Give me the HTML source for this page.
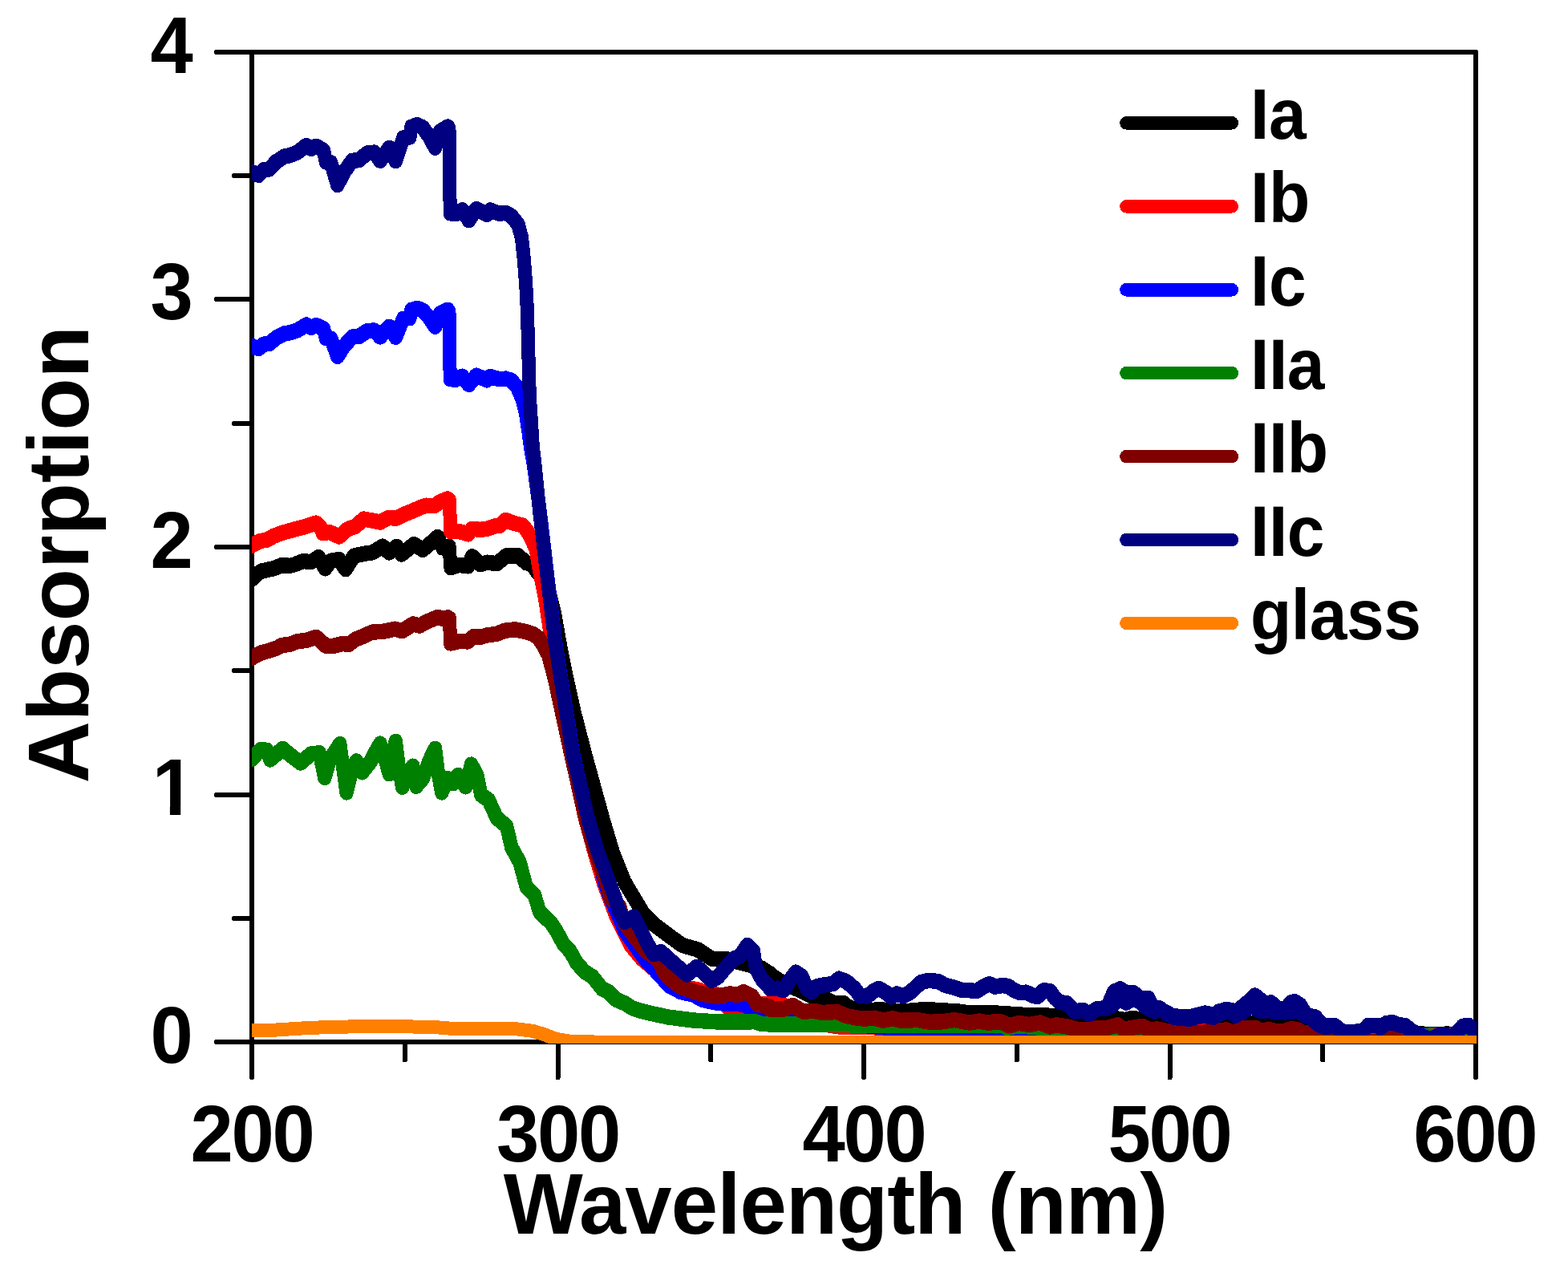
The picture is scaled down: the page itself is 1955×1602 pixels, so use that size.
<!DOCTYPE html>
<html lang="en"><head><meta charset="utf-8"><title>Absorption vs Wavelength</title>
<style>html,body{margin:0;padding:0;background:#fff}body{width:1955px;height:1602px;overflow:hidden}svg{display:block}</style>
</head><body>
<svg width="1955" height="1602" viewBox="0 0 1955 1602" role="img" aria-label="Absorption versus wavelength for samples Ia, Ib, Ic, IIa, IIb, IIc and glass">
<rect width="1955" height="1602" fill="#fff"/>
<g stroke="#000" stroke-width="6" fill="none" stroke-linecap="round" shape-rendering="crispEdges">
<path d="M314.0,65.0 V1343.5"/>
<path d="M1840.0,65.0 V1343.5"/>
<path d="M270,65.0 H1840.0"/>
<path d="M270,1299.0 H1840.0"/>
<path d="M270,991 H314.0"/>
<path d="M270,682 H314.0"/>
<path d="M270,373 H314.0"/>
<path d="M292,1145 H314.0"/>
<path d="M292,836 H314.0"/>
<path d="M292,528 H314.0"/>
<path d="M292,219 H314.0"/>
<path d="M695.5,1299.0 V1343.5"/>
<path d="M1077.0,1299.0 V1343.5"/>
<path d="M1458.5,1299.0 V1343.5"/>
<path d="M504.8,1299.0 V1321.5"/>
<path d="M886.2,1299.0 V1321.5"/>
<path d="M1267.8,1299.0 V1321.5"/>
<path d="M1649.2,1299.0 V1321.5"/>
</g>
<clipPath id="c"><rect x="314.0" y="0" width="1527.0" height="1301"/></clipPath>
<g clip-path="url(#c)" fill="none" stroke-width="17.0" stroke-linejoin="round" stroke-linecap="round" shape-rendering="crispEdges">
<path d="M311.3,722.6 314.3,720.5 320.5,714.4 326.6,710.7 340.9,707.6 351.2,703.5 361.4,704.1 367.6,702.5 377.8,698.4 388,699.4 397.2,693.5 405.4,707.6 412.6,698 422.8,696.4 431,708.6 441.2,691.9 453.5,689.2 463.8,687.8 477.1,680 485.3,687.8 494.5,680.2 500.6,689.8 516,677.5 527.2,684.1 537.5,675.5 545.6,668.3 551.8,681.6 560,680 562,706.6 572.3,703.1 583.5,704.6 588.6,692.5 598.9,702.5 607.1,700 619.3,701.5 631.6,691.5 639.8,691.9 646,691.5 656.2,700.5 663.4,702.1 669,710.8 677,720.8 684.3,734.8 691.4,763.5 698.6,804.5 706.8,845.4 716,886.8 730,940.7 752.5,1022.6 764.8,1063.5 779,1098.8 789,1115.7 802.8,1138.7 815.1,1151 833.5,1164.8 850.4,1177.1 870.4,1182.9 887.3,1194 904.2,1194 925.6,1199.4 948.7,1205.5 960,1212.7 960,1213.7 980,1226.5 990.7,1230.3 1003,1236.1 1021.4,1245.7 1030.6,1244.9 1039.8,1249.5 1052.1,1249.5 1058.3,1254.9 1067.5,1257.2 1082.8,1258.7 1098.2,1257.2 1110.5,1260.2 1128.9,1259.5 1155,1257.2 1174.9,1258.7 1193.4,1259.5 1208.7,1261.8 1230.2,1261.3 1240,1261.3 1240,1261.7 1267.6,1263.5 1289.1,1265 1301.4,1264.3 1322.9,1266.6 1347.5,1270.4 1373.6,1267.3 1393.5,1268.9 1402.7,1270.4 1412,1268.1 1424.2,1270.4 1445.7,1275 1470.3,1281.9 1488.7,1283.5 1502.5,1281.2 1520,1279.9 1520,1281.9 1529.2,1278.6 1536.9,1282.7 1555.3,1275 1564.5,1274 1572.2,1278.1 1581.4,1275 1589.1,1280.4 1598.3,1278.9 1606,1280.4 1615.2,1275.8 1621.3,1278.9 1627.5,1284.2 1636.7,1285 1658.2,1284.2 1673.5,1284.7 1682.7,1285.8 1704.2,1286.5 1765.6,1287.3 1781,1288.4 1793.3,1288.8 1804,1287.8 1811.7,1288.4 1842.4,1288.4 M311.3,725 314.3,722.9 320.5,716.8 326.6,713.1 340.9,710 351.2,705.9 361.4,706.5 367.6,704.9 377.8,700.8 388,701.8 397.2,695.9 405.4,710 412.6,700.4 422.8,698.8 431,711 441.2,694.3 453.5,691.6 463.8,690.2 477.1,682.4 485.3,690.2 494.5,682.6 500.6,692.2 516,679.9 527.2,686.5 537.5,677.9 545.6,670.7 551.8,684 560,682.4 562,709 572.3,705.5 583.5,707 588.6,694.9 598.9,704.9 607.1,702.4 619.3,703.9 631.6,693.9 639.8,694.3 646,693.9 656.2,702.9 663.4,704.5 669,713.2 677,723.2 684.3,737.2 691.4,765.9 698.6,806.9 706.8,847.8 716,889.2 730,943.1 752.5,1025 764.8,1065.9 779,1101.2 789,1118.1 802.8,1141.1 815.1,1153.4 833.5,1167.2 850.4,1179.5 870.4,1185.3 887.3,1196.4 904.2,1196.4 925.6,1201.8 948.7,1207.9 960,1215.1 960,1216.1 980,1228.9 990.7,1232.7 1003,1238.5 1021.4,1248.1 1030.6,1247.3 1039.8,1251.9 1052.1,1251.9 1058.3,1257.3 1067.5,1259.6 1082.8,1261.1 1098.2,1259.6 1110.5,1262.6 1128.9,1261.9 1155,1259.6 1174.9,1261.1 1193.4,1261.9 1208.7,1264.2 1230.2,1263.7 1240,1263.7 1240,1264.1 1267.6,1265.9 1289.1,1267.4 1301.4,1266.7 1322.9,1269 1347.5,1272.8 1373.6,1269.7 1393.5,1271.3 1402.7,1272.8 1412,1270.5 1424.2,1272.8 1445.7,1277.4 1470.3,1284.3 1488.7,1285.9 1502.5,1283.6 1520,1282.3 1520,1284.3 1529.2,1281 1536.9,1285.1 1555.3,1277.4 1564.5,1276.4 1572.2,1280.5 1581.4,1277.4 1589.1,1282.8 1598.3,1281.3 1606,1282.8 1615.2,1278.2 1621.3,1281.3 1627.5,1286.6 1636.7,1287.4 1658.2,1286.6 1673.5,1287.1 1682.7,1288.2 1704.2,1288.9 1765.6,1289.7 1781,1290.8 1793.3,1291.2 1804,1290.2 1811.7,1290.8 1842.4,1290.8" stroke="#000000"/>
<path d="M311.3,679.2 314.3,678.6 324.6,673.4 332.8,671.8 340.9,667.3 351.2,663.2 361.4,660.5 369.6,658.1 381.9,655 394.2,650.9 400.3,657.1 402.4,663.6 410.5,662.2 422.8,667.7 433.1,658.7 443.3,655 453.5,645.8 463.8,647.8 474,649.9 484.2,644.4 494.5,644.8 504.7,639.7 514.9,635.6 525.2,631.1 531.3,629 541.6,629.4 549.7,623.9 558.3,620.8 560.4,622.7 561,640.7 561.6,661.2 572.3,661.2 583.5,664.6 588.6,658.1 598.9,659.1 607.1,658.1 617.3,654.6 623.4,654 630.6,647.2 639.8,650.9 652.1,654 658.2,662.2 668.3,682.8 671.2,702.1 675.2,722.6 679.3,743 682.4,763.5 685.5,784 690.6,798.3 700,858.8 712,938.8 729,1016.8 741,1060.8 753,1100.8 768,1140.8 786,1176.8 800,1193.8 820,1210.8 833.5,1220.1 848.9,1228.5 871.9,1233.1 879.6,1237.7 894.9,1238.8 905.7,1252.3 910.3,1256.9 931.8,1256.9 941,1250.8 960,1250 975.4,1250.8 987.6,1258.5 1006.1,1269.2 1024.5,1275.4 1046,1278.7 1095.1,1279.7 1144.2,1281.2 1260,1282.3 1400,1283.8 1600,1285.8 1780,1289.2 1845,1289.8 M311.3,681.6 314.3,681 324.6,675.8 332.8,674.2 340.9,669.7 351.2,665.6 361.4,662.9 369.6,660.5 381.9,657.4 394.2,653.3 400.3,659.5 402.4,666 410.5,664.6 422.8,670.1 433.1,661.1 443.3,657.4 453.5,648.2 463.8,650.2 474,652.3 484.2,646.8 494.5,647.2 504.7,642.1 514.9,638 525.2,633.5 531.3,631.4 541.6,631.8 549.7,626.3 558.3,623.2 560.4,625.1 561,643.1 561.6,663.6 572.3,663.6 583.5,667 588.6,660.5 598.9,661.5 607.1,660.5 617.3,657 623.4,656.4 630.6,649.6 639.8,653.3 652.1,656.4 658.2,664.6 668.3,685.2 671.2,704.5 675.2,725 679.3,745.4 682.4,765.9 685.5,786.4 690.6,800.7 700,861.2 712,941.2 729,1019.2 741,1063.2 753,1103.2 768,1143.2 786,1179.2 800,1196.2 820,1213.2 833.5,1222.5 848.9,1230.9 871.9,1235.5 879.6,1240.1 894.9,1241.2 905.7,1254.7 910.3,1259.3 931.8,1259.3 941,1253.2 960,1252.4 975.4,1253.2 987.6,1260.9 1006.1,1271.6 1024.5,1277.8 1046,1281.1 1095.1,1282.1 1144.2,1283.6 1260,1284.7 1400,1286.2 1600,1288.2 1780,1291.6 1845,1292.2" stroke="#ff0000"/>
<path d="M311.3,430.3 314.3,430.3 322.5,433.3 328.7,427.9 335.8,427.4 344,420.2 354.2,414.8 361.4,413.6 370.6,410.7 381.9,403.8 388,407.1 394.2,404.4 403.4,408.7 406.4,420.2 412.6,420.8 420.8,443.1 429,430.3 439.2,418.8 447.4,418.4 457.6,411.5 466.8,410.7 474,418.8 485.3,406.1 493.4,419.2 502.7,396.2 510.8,395.4 512.9,385.3 520.1,383.1 527.2,385.8 535.4,395.1 542.6,406.1 548.7,389.7 558.3,385.1 560,387.7 560.6,430.3 561.2,471.3 568.2,472.1 576.4,468 584.5,478.3 593.8,467 607.1,472.6 611.2,468.3 622.4,471.6 630.6,470.9 637.8,473.1 645,481.8 651,495.8 655.5,513.8 658.5,533.8 662,558.8 665.5,578.8 673.5,638.8 683.3,722.6 692.5,798.8 701.8,858.8 715.2,940.7 734,1022.6 745,1063.5 754,1098.8 760.8,1118 768.7,1134.9 779,1159.4 792.4,1178.3 804.7,1195.2 820.5,1212.4 834.3,1227.5 848.9,1235.4 864.2,1238.8 876.5,1245.4 894.9,1249.3 925.6,1250.8 934.9,1254.6 953.3,1259.2 960,1260 990.7,1261.5 1021.4,1266.9 1052.1,1273.1 1082.8,1277.8 1102.8,1279.7 1190.3,1280 1260,1280.1 1300,1280.8 1400,1284.8 1840,1290.8 1845,1290.8 M311.3,432.7 314.3,432.7 322.5,435.7 328.7,430.3 335.8,429.8 344,422.6 354.2,417.2 361.4,416 370.6,413.1 381.9,406.2 388,409.5 394.2,406.8 403.4,411.1 406.4,422.6 412.6,423.2 420.8,445.5 429,432.7 439.2,421.2 447.4,420.8 457.6,413.9 466.8,413.1 474,421.2 485.3,408.5 493.4,421.6 502.7,398.6 510.8,397.8 512.9,387.7 520.1,385.5 527.2,388.2 535.4,397.5 542.6,408.5 548.7,392.1 558.3,387.5 560,390.1 560.6,432.7 561.2,473.7 568.2,474.5 576.4,470.4 584.5,480.7 593.8,469.4 607.1,475 611.2,470.7 622.4,474 630.6,473.3 637.8,475.5 645,484.2 651,498.2 655.5,516.2 658.5,536.2 662,561.2 665.5,581.2 673.5,641.2 683.3,725 692.5,801.2 701.8,861.2 715.2,943.1 734,1025 745,1065.9 754,1101.2 760.8,1120.4 768.7,1137.3 779,1161.8 792.4,1180.7 804.7,1197.6 820.5,1214.8 834.3,1229.9 848.9,1237.8 864.2,1241.2 876.5,1247.8 894.9,1251.7 925.6,1253.2 934.9,1257 953.3,1261.6 960,1262.4 990.7,1263.9 1021.4,1269.3 1052.1,1275.5 1082.8,1280.2 1102.8,1282.1 1190.3,1282.4 1260,1282.5 1300,1283.2 1400,1287.2 1840,1293.2 1845,1293.2" stroke="#0000ff"/>
<path d="M311.3,945.8 314.3,944.8 324.6,933.5 332.8,934.1 336.8,945.8 344,939.7 352.2,932.1 361.4,939.7 374.7,949.9 388,938.6 398.3,937.6 404.8,968.3 411.6,944.8 423.8,926.4 427.9,957.1 432,986.7 439.2,957.1 444.3,947.8 451.5,961.6 461.7,948.9 467.9,936.6 474,925.9 481.2,948.9 485.3,963.6 488.3,940.7 493.4,923.3 497.5,957.1 501.6,980 508.8,961.2 514.9,954 519,979 527.2,969.3 535.4,946.8 542.6,932.1 546.7,965.2 550.8,986.7 557.9,969.3 565.1,975.5 571.2,965.2 580.5,979.6 587.6,951.9 594.8,965.2 599.9,989.8 609.1,996 619.3,1018.5 631.6,1028.7 637.8,1055.3 648,1073.7 656.2,1104.4 666.4,1114.7 672.6,1135.2 682.8,1145.4 686.5,1148.8 693.4,1158.8 702.6,1175.7 711.1,1184.9 718.7,1198.7 728.7,1210.2 738.7,1216.4 751,1231.7 758.7,1235.5 768.6,1245.2 780,1250.1 787.5,1255.1 796.7,1258.5 812,1262.3 833.5,1266.9 864.2,1270.8 894.9,1272.8 941,1272.6 950.2,1275.4 960,1275.7 960,1275.8 1021.4,1276.1 1052.1,1276.4 1082.8,1277.2 1113.5,1277.4 1260,1277.5 1255.4,1280 1270.7,1277.7 1293.7,1279.7 1309.1,1282.3 1324.4,1281.8 1347.5,1285.3 1378.2,1283.8 1393.5,1286.9 1454.9,1288.4 1540,1289.2 1600,1289.8 1845,1290.8 M311.3,948.2 314.3,947.2 324.6,935.9 332.8,936.5 336.8,948.2 344,942.1 352.2,934.5 361.4,942.1 374.7,952.3 388,941 398.3,940 404.8,970.7 411.6,947.2 423.8,928.8 427.9,959.5 432,989.1 439.2,959.5 444.3,950.2 451.5,964 461.7,951.3 467.9,939 474,928.3 481.2,951.3 485.3,966 488.3,943.1 493.4,925.7 497.5,959.5 501.6,982.4 508.8,963.6 514.9,956.4 519,981.4 527.2,971.7 535.4,949.2 542.6,934.5 546.7,967.6 550.8,989.1 557.9,971.7 565.1,977.9 571.2,967.6 580.5,982 587.6,954.3 594.8,967.6 599.9,992.2 609.1,998.4 619.3,1020.9 631.6,1031.1 637.8,1057.7 648,1076.1 656.2,1106.8 666.4,1117.1 672.6,1137.6 682.8,1147.8 686.5,1151.2 693.4,1161.2 702.6,1178.1 711.1,1187.3 718.7,1201.1 728.7,1212.6 738.7,1218.8 751,1234.1 758.7,1237.9 768.6,1247.6 780,1252.5 787.5,1257.5 796.7,1260.9 812,1264.7 833.5,1269.3 864.2,1273.2 894.9,1275.2 941,1275 950.2,1277.8 960,1278.1 960,1278.2 1021.4,1278.5 1052.1,1278.8 1082.8,1279.6 1113.5,1279.8 1260,1279.9 1255.4,1282.4 1270.7,1280.1 1293.7,1282.1 1309.1,1284.7 1324.4,1284.2 1347.5,1287.7 1378.2,1286.2 1393.5,1289.3 1454.9,1290.8 1540,1291.6 1600,1292.2 1845,1293.2" stroke="#008000"/>
<path d="M311.3,819.8 314.3,818.8 324.6,813 334.8,810.2 345,806.9 351.2,803.4 361.4,802 371.6,798.3 381.9,797.3 394.2,793.2 402.4,800.4 406.4,804 414.6,804.4 426.9,801.4 435.1,802 443.3,795.9 453.5,791.8 463.8,787 478.1,786 492.4,783 501.6,785.4 514.9,776.8 523.1,778.9 531.3,774.4 545.6,768.2 551.8,770.1 558.3,768.6 560.4,770.1 561,784 561.6,800.8 572.3,798.3 583.5,798.7 590.7,792.2 598.9,793.2 607.1,790.7 619.3,789.1 629.6,785 641.9,783.6 654.1,786 664.4,789.1 671.5,794.2 677.5,803.8 683.4,814.7 691.6,845.4 694.4,858.8 712.2,940.7 730.6,1022.6 742.9,1063.5 755.5,1096.8 761.5,1118.3 772.5,1128.8 778.5,1149.8 793.5,1169.6 805.8,1184.8 820,1194.8 828,1210.8 833.5,1217.8 848.9,1229.3 864.2,1234.7 879.6,1238.8 894.9,1240.8 910.3,1237.7 919.5,1239.3 927.2,1235.4 937.9,1240.8 944.1,1250.8 956.4,1253.1 960,1253.9 960,1256.9 976.9,1256.9 988.4,1252.3 1001.5,1260 1015.3,1259.2 1024.5,1261.2 1036.8,1260.8 1042.9,1260 1055.2,1265.4 1067.5,1267.7 1076.7,1268.9 1090.5,1268 1101.2,1271.1 1113.5,1268.5 1122.7,1271.1 1144.2,1270.4 1159.6,1273.1 1174.9,1272.6 1190.3,1270.4 1208.7,1273.8 1221,1271.8 1233.3,1274.3 1240,1272.3 1240,1273 1247.7,1272.5 1258.4,1277.6 1270.7,1274.2 1283,1276.4 1296.8,1273.8 1309.1,1278.7 1316.8,1276.7 1332.1,1279 1342.9,1282 1356.7,1282.8 1367.4,1280.5 1378.2,1280.8 1393.5,1276.7 1401.2,1282 1408.9,1280.5 1424.2,1278.2 1433.4,1282.8 1442.7,1281.7 1454.9,1284.3 1470.3,1285.9 1488.7,1287.4 1501,1285.9 1516.4,1285.1 1520,1284 1520,1283.6 1529.2,1282.8 1536.9,1286.6 1550.7,1280.5 1566.1,1280.5 1573,1285.1 1581.4,1282 1590.6,1284.3 1601.4,1284.3 1610.6,1281.3 1618.3,1282.8 1624.4,1286.6 1633.6,1286.6 1641.3,1294.3 1650.5,1298.9 1659.7,1296.6 1673.5,1299.4 1704.2,1299.4 1711.9,1297.1 1724.2,1297.1 1734.9,1292.3 1742.6,1295.1 1750.3,1299.4 1796.4,1299.4 1842.4,1299.4 M311.3,822.2 314.3,821.2 324.6,815.4 334.8,812.6 345,809.3 351.2,805.8 361.4,804.4 371.6,800.7 381.9,799.7 394.2,795.6 402.4,802.8 406.4,806.4 414.6,806.8 426.9,803.8 435.1,804.4 443.3,798.3 453.5,794.2 463.8,789.4 478.1,788.4 492.4,785.4 501.6,787.8 514.9,779.2 523.1,781.3 531.3,776.8 545.6,770.6 551.8,772.5 558.3,771 560.4,772.5 561,786.4 561.6,803.2 572.3,800.7 583.5,801.1 590.7,794.6 598.9,795.6 607.1,793.1 619.3,791.5 629.6,787.4 641.9,786 654.1,788.4 664.4,791.5 671.5,796.6 677.5,806.2 683.4,817.1 691.6,847.8 694.4,861.2 712.2,943.1 730.6,1025 742.9,1065.9 755.5,1099.2 761.5,1120.7 772.5,1131.2 778.5,1152.2 793.5,1172 805.8,1187.2 820,1197.2 828,1213.2 833.5,1220.2 848.9,1231.7 864.2,1237.1 879.6,1241.2 894.9,1243.2 910.3,1240.1 919.5,1241.7 927.2,1237.8 937.9,1243.2 944.1,1253.2 956.4,1255.5 960,1256.3 960,1259.3 976.9,1259.3 988.4,1254.7 1001.5,1262.4 1015.3,1261.6 1024.5,1263.6 1036.8,1263.2 1042.9,1262.4 1055.2,1267.8 1067.5,1270.1 1076.7,1271.3 1090.5,1270.4 1101.2,1273.5 1113.5,1270.9 1122.7,1273.5 1144.2,1272.8 1159.6,1275.5 1174.9,1275 1190.3,1272.8 1208.7,1276.2 1221,1274.2 1233.3,1276.7 1240,1274.7 1240,1275.4 1247.7,1274.9 1258.4,1280 1270.7,1276.6 1283,1278.8 1296.8,1276.2 1309.1,1281.1 1316.8,1279.1 1332.1,1281.4 1342.9,1284.4 1356.7,1285.2 1367.4,1282.9 1378.2,1283.2 1393.5,1279.1 1401.2,1284.4 1408.9,1282.9 1424.2,1280.6 1433.4,1285.2 1442.7,1284.1 1454.9,1286.7 1470.3,1288.3 1488.7,1289.8 1501,1288.3 1516.4,1287.5 1520,1286.4 1520,1286 1529.2,1285.2 1536.9,1289 1550.7,1282.9 1566.1,1282.9 1573,1287.5 1581.4,1284.4 1590.6,1286.7 1601.4,1286.7 1610.6,1283.7 1618.3,1285.2 1624.4,1289 1633.6,1289 1641.3,1296.7 1650.5,1301.3 1659.7,1299 1673.5,1301.8 1704.2,1301.8 1711.9,1299.5 1724.2,1299.5 1734.9,1294.7 1742.6,1297.5 1750.3,1301.8 1796.4,1301.8 1842.4,1301.8" stroke="#800000"/>
<path d="M311.3,213.4 314.3,213.4 322.5,217.1 328.7,210.4 335.8,209.8 344,200.7 354.2,194 361.4,192.6 370.6,188.9 381.9,180.3 388,184.4 394.2,181.1 403.4,186.4 406.4,200.7 412.6,201.6 420.8,229.4 429,213.4 439.2,199.1 447.4,198.5 457.6,189.9 466.8,188.9 474,199.1 485.3,183.1 493.4,199.5 502.7,170.9 510.8,169.8 512.9,157.1 520.1,154.5 527.2,157.8 535.4,169.4 542.6,183.1 548.7,162.7 558.3,156.9 560,160.2 560.6,213.4 561.2,264.6 568.2,265.6 576.4,260.5 584.5,273.4 593.8,259.3 607.1,266.3 611.2,260.9 622.4,265 630.6,264.2 637.8,268.3 646,278.5 650.5,295.3 653.5,324 655.8,354.7 657.4,385.4 660.3,492.6 664.5,558.8 666.5,574.4 673,638.8 682.8,722.6 692,798.8 701.3,858.8 714.6,940.7 734.1,1022.6 746.4,1063.5 759.8,1098.8 766,1115.7 772.1,1134.1 779,1148.2 790.5,1141.8 798.2,1157.1 807.4,1175.6 815.1,1188.6 824.3,1185.5 833.5,1194 845.8,1204.7 856.6,1213.9 868.8,1204 878.1,1212.4 887.3,1220.9 894.9,1217 902.6,1207.8 914.9,1194 922.6,1190.9 931.8,1177.1 939.5,1184.8 942.5,1206.3 950.2,1220.1 959.4,1229 960,1231.6 969.2,1230.9 976.9,1233.5 984.6,1220.9 992.2,1210.9 999.9,1216.3 1006.1,1231.6 1012.2,1235 1018.3,1228.6 1029.1,1226.3 1038.3,1225.5 1046,1219 1055.2,1222.4 1065.9,1231.6 1072.1,1240.1 1081.3,1240.8 1089,1234.7 1095.9,1231.2 1104.3,1236.2 1111.2,1241.6 1118.1,1237.8 1125.8,1240.5 1133.5,1237 1141.2,1230.1 1148.8,1223.2 1158.1,1221.2 1170.3,1222.4 1178,1227 1190.3,1230.1 1199.5,1233.2 1208.7,1233.5 1217.9,1234.4 1225.6,1229.3 1233.3,1225.5 1240,1228.3 1240,1229 1249.2,1227.4 1256.9,1228.2 1264.6,1233.6 1272.2,1236.6 1279.2,1235.9 1289.1,1240.5 1293.7,1241.2 1301.4,1233.6 1309.1,1234.3 1315.2,1242.8 1321.4,1248.2 1330.6,1249.7 1339.8,1259.7 1350.5,1258.1 1358.2,1263.1 1367.4,1256.6 1379.7,1255.8 1384.3,1245.9 1388.9,1235.1 1396.6,1231.7 1404.3,1236.6 1413.5,1236.6 1421.2,1242.8 1431.9,1243.6 1436.5,1253.5 1439.6,1259.7 1445.7,1257.4 1454.9,1261.2 1464.2,1267.3 1473.4,1268.1 1482.6,1269.2 1491.8,1266.6 1501,1265 1513.3,1267 1519.4,1261.2 1520,1259.7 1527.7,1257.7 1535.4,1258.1 1540.7,1265 1547.6,1255.1 1556.8,1247.4 1564.5,1239.7 1572.2,1245.9 1577.6,1251.2 1584.5,1248.6 1593.7,1256.6 1603.7,1256.9 1609,1248.9 1614.4,1247.4 1621.3,1252 1627.5,1262.7 1633.6,1266.6 1639.8,1266.6 1645.9,1273.5 1652,1278.9 1654.3,1277.8 1655,1277.3 1664.2,1277.3 1671.9,1284.2 1681.1,1285.8 1690.3,1285 1699.5,1284.2 1705.7,1277.3 1717.9,1277.3 1721,1280.4 1728.7,1274.3 1736.4,1273.5 1744,1276.6 1751.7,1277.3 1759.4,1283.5 1767.1,1288.1 1780.9,1293.8 1785.5,1294.2 1793.2,1289.6 1800.9,1288.8 1810.1,1291.1 1816.2,1286.5 1823.9,1278.1 1831.6,1277.3 1837.7,1283.5 1843.8,1290.4 M311.3,215.8 314.3,215.8 322.5,219.5 328.7,212.8 335.8,212.2 344,203.1 354.2,196.4 361.4,195 370.6,191.3 381.9,182.7 388,186.8 394.2,183.5 403.4,188.8 406.4,203.1 412.6,204 420.8,231.8 429,215.8 439.2,201.5 447.4,200.9 457.6,192.3 466.8,191.3 474,201.5 485.3,185.5 493.4,201.9 502.7,173.3 510.8,172.2 512.9,159.5 520.1,156.9 527.2,160.2 535.4,171.8 542.6,185.5 548.7,165.1 558.3,159.3 560,162.6 560.6,215.8 561.2,267 568.2,268 576.4,262.9 584.5,275.8 593.8,261.7 607.1,268.7 611.2,263.3 622.4,267.4 630.6,266.6 637.8,270.7 646,280.9 650.5,297.7 653.5,326.4 655.8,357.1 657.4,387.8 660.3,495 664.5,561.2 666.5,576.8 673,641.2 682.8,725 692,801.2 701.3,861.2 714.6,943.1 734.1,1025 746.4,1065.9 759.8,1101.2 766,1118.1 772.1,1136.5 779,1150.6 790.5,1144.2 798.2,1159.5 807.4,1178 815.1,1191 824.3,1187.9 833.5,1196.4 845.8,1207.1 856.6,1216.3 868.8,1206.4 878.1,1214.8 887.3,1223.3 894.9,1219.4 902.6,1210.2 914.9,1196.4 922.6,1193.3 931.8,1179.5 939.5,1187.2 942.5,1208.7 950.2,1222.5 959.4,1231.4 960,1234 969.2,1233.3 976.9,1235.9 984.6,1223.3 992.2,1213.3 999.9,1218.7 1006.1,1234 1012.2,1237.4 1018.3,1231 1029.1,1228.7 1038.3,1227.9 1046,1221.4 1055.2,1224.8 1065.9,1234 1072.1,1242.5 1081.3,1243.2 1089,1237.1 1095.9,1233.6 1104.3,1238.6 1111.2,1244 1118.1,1240.2 1125.8,1242.9 1133.5,1239.4 1141.2,1232.5 1148.8,1225.6 1158.1,1223.6 1170.3,1224.8 1178,1229.4 1190.3,1232.5 1199.5,1235.6 1208.7,1235.9 1217.9,1236.8 1225.6,1231.7 1233.3,1227.9 1240,1230.7 1240,1231.4 1249.2,1229.8 1256.9,1230.6 1264.6,1236 1272.2,1239 1279.2,1238.3 1289.1,1242.9 1293.7,1243.6 1301.4,1236 1309.1,1236.7 1315.2,1245.2 1321.4,1250.6 1330.6,1252.1 1339.8,1262.1 1350.5,1260.5 1358.2,1265.5 1367.4,1259 1379.7,1258.2 1384.3,1248.3 1388.9,1237.5 1396.6,1234.1 1404.3,1239 1413.5,1239 1421.2,1245.2 1431.9,1246 1436.5,1255.9 1439.6,1262.1 1445.7,1259.8 1454.9,1263.6 1464.2,1269.7 1473.4,1270.5 1482.6,1271.6 1491.8,1269 1501,1267.4 1513.3,1269.4 1519.4,1263.6 1520,1262.1 1527.7,1260.1 1535.4,1260.5 1540.7,1267.4 1547.6,1257.5 1556.8,1249.8 1564.5,1242.1 1572.2,1248.3 1577.6,1253.6 1584.5,1251 1593.7,1259 1603.7,1259.3 1609,1251.3 1614.4,1249.8 1621.3,1254.4 1627.5,1265.1 1633.6,1269 1639.8,1269 1645.9,1275.9 1652,1281.3 1654.3,1280.2 1655,1279.7 1664.2,1279.7 1671.9,1286.6 1681.1,1288.2 1690.3,1287.4 1699.5,1286.6 1705.7,1279.7 1717.9,1279.7 1721,1282.8 1728.7,1276.7 1736.4,1275.9 1744,1279 1751.7,1279.7 1759.4,1285.9 1767.1,1290.5 1780.9,1296.2 1785.5,1296.6 1793.2,1292 1800.9,1291.2 1810.1,1293.5 1816.2,1288.9 1823.9,1280.5 1831.6,1279.7 1837.7,1285.9 1843.8,1292.8 M1378.2,1254.2 1387.4,1251.9 1395.1,1244.2 1404.3,1248.8 1412,1243.4 1421.2,1247.3 1425.8,1251.9 1435,1258 1445.7,1255.7 1454.9,1262.6 1464.2,1265.7 1482.6,1266.9 1493.3,1264.2 1502.5,1261.9 1513.3,1264.2 1521,1262.6 1528.6,1259.5 1540,1262.6 1543,1262.4 1550.2,1260.2 1556.3,1254.6 1561.4,1248.8 1565.5,1256.1 1571.6,1259.2 1576.8,1259.2 1581.9,1255.6 1588,1260.7 1597.2,1259.7 1602.4,1260.7 1610.5,1260.2 1615.7,1256.6 1620.8,1260.2 1626.9,1264.8 1634.1,1265.3 1638.2,1271.5 1643.3,1275.5 1649.4,1278.6 1656.6,1279.1 M1378.2,1256.6 1387.4,1254.3 1395.1,1246.6 1404.3,1251.2 1412,1245.8 1421.2,1249.7 1425.8,1254.3 1435,1260.4 1445.7,1258.1 1454.9,1265 1464.2,1268.1 1482.6,1269.3 1493.3,1266.6 1502.5,1264.3 1513.3,1266.6 1521,1265 1528.6,1261.9 1540,1265 1543,1264.8 1550.2,1262.6 1556.3,1257 1561.4,1251.2 1565.5,1258.5 1571.6,1261.6 1576.8,1261.6 1581.9,1258 1588,1263.1 1597.2,1262.1 1602.4,1263.1 1610.5,1262.6 1615.7,1259 1620.8,1262.6 1626.9,1267.2 1634.1,1267.7 1638.2,1273.9 1643.3,1277.9 1649.4,1281 1656.6,1281.5" stroke="#000080"/>
<path d="M305,1284.3 314,1284.3 343.3,1284.1 374,1282.1 415,1280.2 476.4,1279.6 496.8,1279.6 523.4,1280.2 541.4,1280.5 572,1283 610.5,1282.5 641,1282.4 664,1285.3 679.6,1290 692,1295 710,1298.2 741,1299 1000,1299.7 1850,1299.7" stroke="#ff8000"/>
</g>
<g stroke-width="16.7" stroke-linecap="round" fill="none" shape-rendering="crispEdges">
<path d="M1404.5,153.3 H1535.7" stroke="#000000"/>
<path d="M1404.5,257.3 H1535.7" stroke="#ff0000"/>
<path d="M1404.5,361.2 H1535.7" stroke="#0000ff"/>
<path d="M1404.5,465.1 H1535.7" stroke="#008000"/>
<path d="M1404.5,569.1 H1535.7" stroke="#800000"/>
<path d="M1404.5,673.0 H1535.7" stroke="#000080"/>
<path d="M1404.5,776.9 H1535.7" stroke="#ff8000"/>
</g>
<clipPath id="c1"><path d="M180,930 H260 V1005 H225.2 V1025 H211.9 V1005 H180 Z"/></clipPath>
<g font-family="'Liberation Sans', Arial, Helvetica, sans-serif" font-weight="bold" fill="#000">
<text transform="translate(314.00,1448.00) scale(0.963,1)" font-size="99.4" text-anchor="middle" letter-spacing="-2.4">200</text>
<text transform="translate(695.50,1448.00) scale(0.963,1)" font-size="99.4" text-anchor="middle" letter-spacing="-2.4">300</text>
<text transform="translate(1077.00,1448.00) scale(0.963,1)" font-size="99.4" text-anchor="middle" letter-spacing="-2.4">400</text>
<text transform="translate(1458.00,1448.00) scale(0.963,1)" font-size="99.4" text-anchor="middle" letter-spacing="-2.4">500</text>
<text transform="translate(1838.70,1448.00) scale(0.963,1)" font-size="99.4" text-anchor="middle" letter-spacing="-2.4">600</text>
<text transform="translate(240.80,1325.00) scale(0.963,1)" font-size="99.4" text-anchor="end">0</text>
<g clip-path="url(#c1)"><text transform="translate(243.00,1016.20) scale(0.963,1)" font-size="99.4" text-anchor="end">1</text></g>
<text transform="translate(240.80,708.00) scale(0.963,1)" font-size="99.4" text-anchor="end">2</text>
<text transform="translate(240.80,398.20) scale(0.963,1)" font-size="99.4" text-anchor="end">3</text>
<text transform="translate(240.80,91.00) scale(0.963,1)" font-size="99.4" text-anchor="end">4</text>
<text transform="translate(1041.50,1537.80) scale(0.98,1)" font-size="107" text-anchor="middle" letter-spacing="-0.9">Wavelength (nm)</text>
<text transform="translate(110.00,691.30) rotate(-90) scale(1.0,1)" font-size="107" text-anchor="middle">Absorption</text>
<text transform="translate(1559.00,172.90) scale(0.95,1)" font-size="88.5" text-anchor="start" letter-spacing="-0.5">Ia</text>
<text transform="translate(1559.00,276.90) scale(0.95,1)" font-size="88.5" text-anchor="start" letter-spacing="-0.5">Ib</text>
<text transform="translate(1559.00,380.90) scale(0.95,1)" font-size="88.5" text-anchor="start" letter-spacing="-0.5">Ic</text>
<text transform="translate(1559.00,484.90) scale(0.95,1)" font-size="88.5" text-anchor="start" letter-spacing="-0.5">IIa</text>
<text transform="translate(1559.00,588.90) scale(0.95,1)" font-size="88.5" text-anchor="start" letter-spacing="-0.5">IIb</text>
<text transform="translate(1559.00,692.90) scale(0.95,1)" font-size="88.5" text-anchor="start" letter-spacing="-0.5">IIc</text>
<text transform="translate(1559.00,796.90) scale(0.95,1)" font-size="88.5" text-anchor="start" letter-spacing="-0.5">glass</text>
</g>
</svg>
</body></html>
